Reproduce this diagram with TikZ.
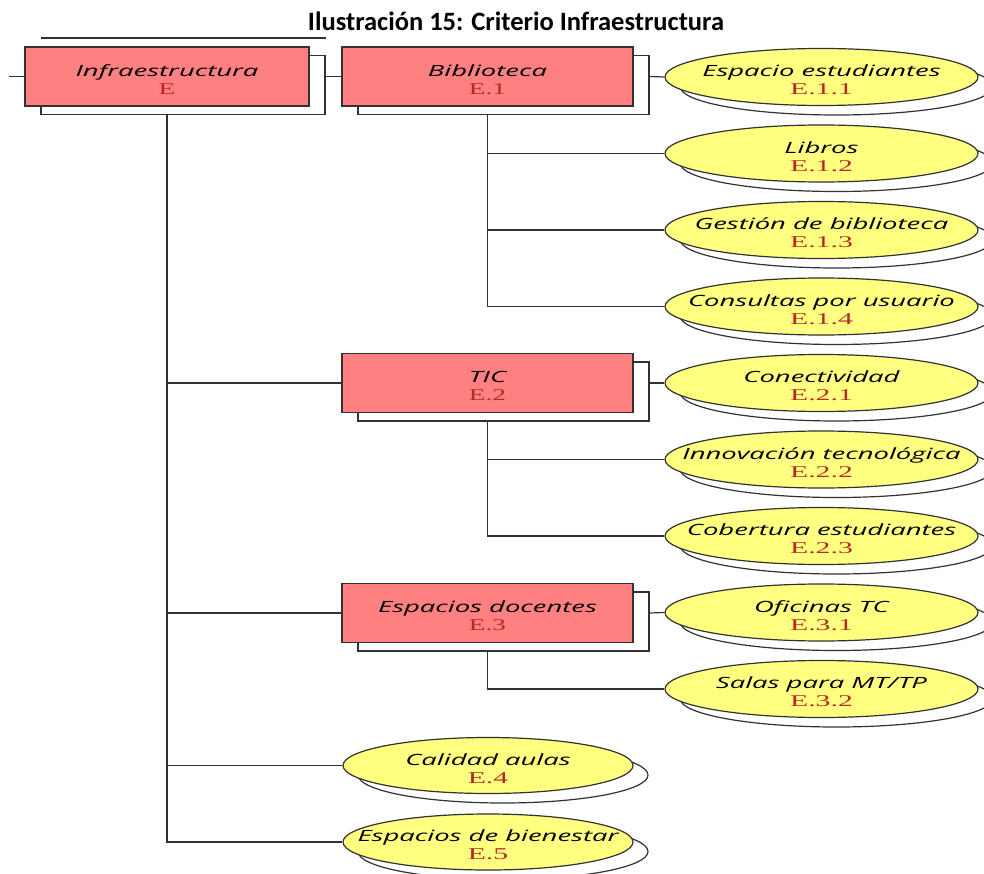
\documentclass[tikz,border=0pt]{standalone}
\usepackage{fontspec}
\setmainfont{Liberation Serif}
\newfontfamily\titlefont{Carlito}
\newfontfamily\nmfont{Open Sans}
\usetikzlibrary{shapes.geometric,shadows}
\definecolor{boxfill}{RGB}{255,128,128}
\definecolor{ellfill}{RGB}{255,255,128}
\definecolor{codecol}{RGB}{185,40,35}
\definecolor{linecol}{RGB}{50,50,50}
\newcommand\nmtxt[1]{\scalebox{1.77}[1]{\nmfont\itshape #1}}
\newcommand\cdtxt[2]{\scalebox{#1}[1]{\fontsize{16.5}{18}\selectfont\color{codecol}#2}}
% #1 = code stretch, #2 = name, #3 = code
\newcommand\txtblock[3]{\raisebox{-5pt}[\height][\depth]{\makebox[0pt]{\fontsize{15.5}{18}\selectfont\begin{tabular}{@{}c@{}}\nmtxt{#2}\\\cdtxt{#1}{#3}\end{tabular}}}}
\newcommand\two[2]{\txtblock{1.65}{#1}{#2}}
\newcommand\twoe[2]{\txtblock{1.8}{#1}{#2}}
\tikzset{
  x=1pt, y=-1pt,
  conn/.style={draw=linecol, line width=1.2pt},
  boxnode/.style={rectangle, draw=linecol, line width=1.2pt, fill=boxfill,
    inner sep=0pt, minimum width=291pt, minimum height=59pt,
    copy shadow={shadow xshift=16pt, shadow yshift=-8.5pt, fill=white, draw=linecol, line width=1.2pt}},
  ellnode/.style={ellipse, draw=linecol, line width=1.2pt, fill=ellfill,
    inner sep=0pt, minimum width=313pt, minimum height=57pt,
    copy shadow={shadow xshift=15pt, shadow yshift=-9.5pt, fill=white, draw=linecol, line width=1.2pt}},
  ellsmall/.style={ellnode, minimum width=290pt, minimum height=56pt},
}
\begin{document}
\begin{tikzpicture}
\clip (0,0) rectangle (984,874);
\fill[white] (0,0) rectangle (984,874);
% title
\node[anchor=base, inner sep=0pt, font=\fontsize{26.5}{30}\selectfont\titlefont\bfseries] (title) at (516,31) {Ilustración 15: Criterio Infraestructura};
% stray top line
\coordinate (tl1) at (41,38);
\coordinate (tl2) at (326,38);
\draw[conn] (tl1) -- (tl2);
% level 1
\node[boxnode, minimum width=284pt] (inf) at (167,76.5) {\two{Infraestructura}{E}};
\coordinate (in0) at (9,76.5);
% level 2
\node[boxnode] (bib) at (487.5,76.5) {\two{Biblioteca}{E.1}};
\node[boxnode] (tic) at (487.5,383) {\two{TIC}{E.2}};
\node[boxnode] (doc) at (487.5,613) {\two{Espacios docentes}{E.3}};
\node[ellsmall] (aul) at (488,765.5) {\twoe{Calidad aulas}{E.4}};
\node[ellsmall] (bien) at (488,842) {\twoe{Espacios de bienestar}{E.5}};
% level 3
\node[ellnode] (e11) at (821.5,77) {\twoe{Espacio estudiantes}{E.1.1}};
\node[ellnode] (e12) at (821.5,153.5) {\twoe{Libros}{E.1.2}};
\node[ellnode] (e13) at (821.5,230) {\twoe{Gestión de biblioteca}{E.1.3}};
\node[ellnode] (e14) at (821.5,306.5) {\twoe{Consultas por usuario}{E.1.4}};
\node[ellnode] (e21) at (821.5,383) {\twoe{Conectividad}{E.2.1}};
\node[ellnode] (e22) at (821.5,459.5) {\twoe{Innovación tecnológica}{E.2.2}};
\node[ellnode] (e23) at (821.5,536) {\twoe{Cobertura estudiantes}{E.2.3}};
\node[ellnode] (e31) at (821.5,612.5) {\twoe{Oficinas TC}{E.3.1}};
\node[ellnode] (e32) at (821.5,689) {\twoe{Salas para MT/TP}{E.3.2}};
% connectors
\draw[conn] (in0) -- (inf.west);
\draw[conn] ([xshift=16pt]inf.east) -- (bib.west);
\draw[conn] ([yshift=-8.5pt]inf.south) |- (tic.west);
\draw[conn] ([yshift=-8.5pt]inf.south) |- (doc.west);
\draw[conn] ([yshift=-8.5pt]inf.south) |- (aul.west);
\draw[conn] ([yshift=-8.5pt]inf.south) |- (bien.west);
\draw[conn] ([xshift=16pt]bib.east) -- (e11.west);
\draw[conn] ([yshift=-8.5pt]bib.south) |- (e12.west);
\draw[conn] ([yshift=-8.5pt]bib.south) |- (e13.west);
\draw[conn] ([yshift=-8.5pt]bib.south) |- (e14.west);
\draw[conn] ([xshift=16pt]tic.east) -- (e21.west);
\draw[conn] ([yshift=-8.5pt]tic.south) |- (e22.west);
\draw[conn] ([yshift=-8.5pt]tic.south) |- (e23.west);
\draw[conn] ([xshift=16pt]doc.east) -- (e31.west);
\draw[conn] ([yshift=-8.5pt]doc.south) |- (e32.west);
\end{tikzpicture}
\end{document}
